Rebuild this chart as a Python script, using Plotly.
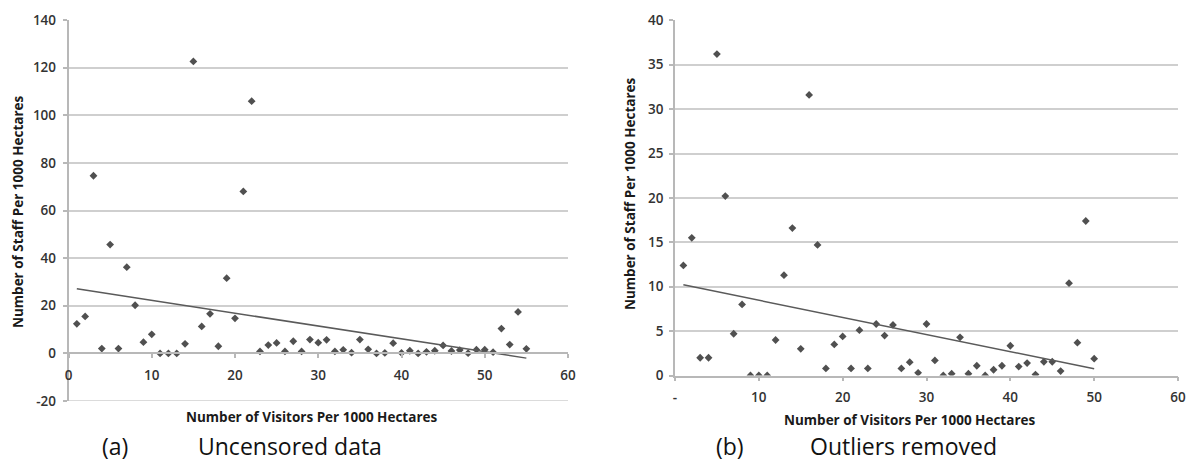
import numpy as np
import plotly.graph_objects as go

# ---------------- data ----------------
x_left = list(range(1, 56))
staff_left = [12.4, 15.5, 74.6, 2.0, 45.7, 2.0, 36.2, 20.2, 4.7, 8.0,
              0, 0, 0, 4.0, 122.6, 11.3, 16.6, 3.0, 31.6, 14.7,
              68.0, 105.9, 0.8, 3.5, 4.4, 0.8, 5.1, 0.8, 5.8, 4.5,
              5.7, 0.8, 1.5, 0.3, 5.8, 1.7, 0, 0.2, 4.3, 0.2,
              1.1, 0, 0.65, 1.1, 3.35, 1.0, 1.4, 0.1, 1.55, 1.55,
              0.5, 10.4, 3.7, 17.4, 1.9]

x_right = list(range(1, 51))
staff_right = [12.4, 15.5, 2.0, 2.0, 36.2, 20.2, 4.7, 8.0, 0, 0,
               0, 4.0, 11.3, 16.6, 3.0, 31.6, 14.7, 0.8, 3.5, 4.4,
               0.8, 5.1, 0.8, 5.8, 4.5, 5.7, 0.8, 1.5, 0.3, 5.8,
               1.7, 0, 0.2, 4.3, 0.2, 1.1, 0, 0.65, 1.1, 3.35,
               1.0, 1.4, 0.1, 1.55, 1.55, 0.5, 10.4, 3.7, 17.4, 1.9]

x_ticks = [0, 10, 20, 30, 40, 50, 60]
x_ticktext_left = ["0", "10", "20", "30", "40", "50", "60"]
x_ticktext_right = ["-", "10", "20", "30", "40", "50", "60"]
y_ticks_left = [-20, 0, 20, 40, 60, 80, 100, 120, 140]
y_ticktext_left = ["-20", "0", "20", "40", "60", "80", "100", "120", "140"]
y_ticks_right = [0, 5, 10, 15, 20, 25, 30, 35, 40]

x_title = "Number of Visitors Per 1000 Hectares"
y_title = "Number of Staff Per 1000 Hectares"
caption_a = ("(a)", "Uncensored data")
caption_b = ("(b)", "Outliers removed")

# ---------------- figure ----------------
W, H = 1187, 463
MARK = dict(symbol="diamond", size=6, color="#505050")
LINE = dict(color="#5a5a5a", width=1.5)
FONT = "Open Sans"
GRID = "#cfcfcf"


def trend(xs, ys):
    k, b = np.polyfit(np.array(xs, float), np.array(ys, float), 1)
    xe = np.array([xs[0], xs[-1]], float)
    return xe, k * xe + b


fig = go.Figure()
fig.add_trace(go.Scatter(x=x_left, y=staff_left, mode="markers", marker=MARK,
                         xaxis="x", yaxis="y", showlegend=False))
tx, ty = trend(x_left, staff_left)
fig.add_trace(go.Scatter(x=tx, y=ty, mode="lines", line=LINE,
                         xaxis="x", yaxis="y", showlegend=False))
fig.add_trace(go.Scatter(x=x_right, y=staff_right, mode="markers", marker=MARK,
                         xaxis="x2", yaxis="y2", showlegend=False))
tx2, ty2 = trend(x_right, staff_right)
fig.add_trace(go.Scatter(x=tx2, y=ty2, mode="lines", line=LINE,
                         xaxis="x2", yaxis="y2", showlegend=False))


def px_x(p):
    return p / W


def px_y(p):
    return 1 - p / H


tickfont = dict(family=FONT, size=13.5, color="#333333", weight=600)
axis_common = dict(showline=True, linecolor="#b8b8b8", linewidth=1.5,
                   ticks="outside", ticklen=4, tickcolor="#b8b8b8", tickwidth=1.5,
                   zeroline=False, tickfont=tickfont, fixedrange=True,
                   automargin=False)

left_y_dom = [px_y(401), px_y(20)]
right_y_dom = [px_y(375.5), px_y(20.3)]
# paper position of y=0 in left chart
zero_left = left_y_dom[0] + (0 - (-20)) / 160 * (left_y_dom[1] - left_y_dom[0])

fig.update_layout(
    width=W, height=H,
    margin=dict(l=0, r=0, t=0, b=0, autoexpand=False),
    paper_bgcolor="white", plot_bgcolor="white",
    font=dict(family=FONT),
    xaxis=dict(domain=[px_x(68.5), px_x(568)], range=[0, 60], tickvals=x_ticks,
               ticktext=x_ticktext_left, anchor="free", position=zero_left,
               showgrid=False, ticklabelstandoff=6, **axis_common),
    yaxis=dict(domain=left_y_dom, range=[-20, 140], tickvals=y_ticks_left,
               ticktext=y_ticktext_left,
               anchor="x", showgrid=True, gridcolor=GRID, gridwidth=1.5,
               ticklabelstandoff=4, **axis_common),
    xaxis2=dict(domain=[px_x(675), px_x(1178)], range=[0, 60], tickvals=x_ticks,
                ticktext=x_ticktext_right, anchor="y2", showgrid=False,
                ticklabelstandoff=5, **axis_common),
    yaxis2=dict(domain=right_y_dom, range=[0, 40], tickvals=y_ticks_right,
                anchor="x2", showgrid=True, gridcolor=GRID, gridwidth=1.5,
                ticklabelstandoff=3, **axis_common),
)
# bottom gridline of left chart (at y = -20)
fig.add_shape(type="line", xref="x", yref="y", x0=0, x1=60, y0=-20, y1=-20,
              line=dict(color=GRID, width=1.5), layer="below")

title_font = dict(family=FONT, size=13.5, color="#1a1a1a", weight=700)
cap_font = dict(family=FONT, size=23, color="#111111")
ann = [
    dict(x=px_x(311), y=px_y(417), text=x_title, font=title_font, yanchor="middle"),
    dict(x=px_x(909), y=px_y(420), text=x_title, font=title_font, yanchor="middle"),
    dict(x=px_x(18), y=px_y(212), text=y_title, font=title_font, textangle=-90,
         yanchor="middle"),
    dict(x=px_x(630), y=px_y(194), text=y_title, font=title_font, textangle=-90,
         yanchor="middle"),
    dict(x=px_x(115), y=0, text=caption_a[0], font=cap_font, yanchor="bottom"),
    dict(x=px_x(197), y=0, text=caption_a[1], font=cap_font, xanchor="left",
         yanchor="bottom"),
    dict(x=px_x(730), y=0, text=caption_b[0], font=cap_font, yanchor="bottom"),
    dict(x=px_x(809), y=0, text=caption_b[1], font=cap_font, xanchor="left",
         yanchor="bottom"),
]
for a in ann:
    a.setdefault("xanchor", "center")
    fig.add_annotation(xref="paper", yref="paper", showarrow=False, borderpad=0, **a)

fig.write_html(
    "out.html",
    config={"displayModeBar": False},
    post_script="document.body.style.margin='0';document.body.style.overflow='hidden';",
)
